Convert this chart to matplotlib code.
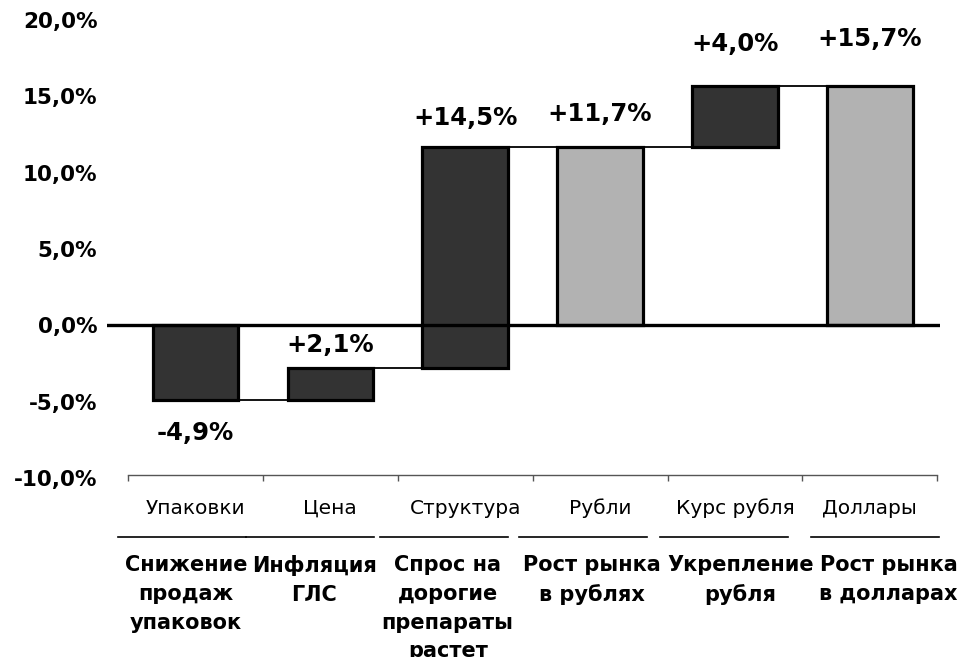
import matplotlib
matplotlib.use("Agg")
import matplotlib.pyplot as plt
from matplotlib.ticker import FixedLocator, FuncFormatter
import matplotlib.transforms as mtransforms

# ---- data ----
categories = ["Упаковки", "Цена", "Структура", "Рубли", "Курс рубля", "Доллары"]
descriptions = ["Снижение\nпродаж\nупаковок", "Инфляция\nГЛС", "Спрос на\nдорогие\nпрепараты\nрастет",
                "Рост рынка\nв рублях", "Укрепление\nрубля", "Рост рынка\nв долларах"]
changes = [-4.9, 2.1, 14.5, None, 4.0, None]   # None -> total bar
totals = [None, None, None, 11.7, None, 15.7]
value_labels = ["-4,9%", "+2,1%", "+14,5%", "+11,7%", "+4,0%", "+15,7%"]
y_ticks = [-10, -5, 0, 5, 10, 15, 20]

# ---- layout / style ----
DARK = "#333333"
LIGHT = "#B2B2B2"
bar_w = 0.635
label_offsets_pt = [-15, 8, 12, 15, 21, 25]        # vertical offset of value labels
desc_dx = [-0.07, -0.12, -0.13, -0.06, 0.04, 0.14]  # x offset of description labels
line_dx = [-0.10, -0.15, -0.16, -0.13, -0.08, 0.04] # x offset of underline centers
line_w = 0.95

fig = plt.figure(figsize=(9.6, 6.57), dpi=100)
ax = fig.add_axes([107/960, 1 - 478/657, (940-107)/960, (478-15.4)/657])
ax.set_xlim(-0.656, 5.52)
ax.set_ylim(-10, 20.3)

# compute waterfall geometry
bottoms, heights, colors, ends = [], [], [], []
level = 0.0
for i in range(len(categories)):
    if totals[i] is not None:
        bottoms.append(0.0)
        heights.append(totals[i])
        colors.append(LIGHT)
        level = totals[i]
    else:
        bottoms.append(level)
        heights.append(changes[i])
        colors.append(DARK)
        level = level + changes[i]
    ends.append(level)

x = list(range(len(categories)))
ax.bar(x, heights, bottom=bottoms, width=bar_w, color=colors,
       edgecolor="black", linewidth=2.3, zorder=3)

# connectors
for i in range(len(categories) - 1):
    ax.plot([x[i] + bar_w/2, x[i+1] - bar_w/2], [ends[i], ends[i]],
            color="black", lw=1.3, zorder=2)

# zero line
ax.axhline(0, color="black", lw=2.4, zorder=4)

# value labels
for i in range(len(categories)):
    top = max(bottoms[i], bottoms[i] + heights[i])
    low = min(bottoms[i], bottoms[i] + heights[i])
    if value_labels[i].startswith("-"):
        ax.annotate(value_labels[i], (x[i], low), xytext=(0, label_offsets_pt[i]),
                    textcoords="offset points", ha="center", va="top",
                    fontsize=17.5, fontweight="bold")
    else:
        ax.annotate(value_labels[i], (x[i], top), xytext=(0, label_offsets_pt[i]),
                    textcoords="offset points", ha="center", va="bottom",
                    fontsize=17.5, fontweight="bold")

# y axis
ax.yaxis.set_major_locator(FixedLocator(y_ticks))
ax.yaxis.set_major_formatter(FuncFormatter(lambda v, p: f"{v:.1f}".replace(".", ",") + "%"))
ax.tick_params(axis="y", length=0, pad=7, labelsize=15.5)
for lab in ax.get_yticklabels():
    lab.set_fontweight("bold")

# x axis (category axis)
for s in ["left", "right", "top"]:
    ax.spines[s].set_visible(False)
ax.spines["bottom"].set_position(("data", -9.8))
ax.spines["bottom"].set_bounds(-0.5, 5.5)
ax.spines["bottom"].set_color("#555555")
ax.spines["bottom"].set_linewidth(1.0)
ax.set_xticks(x)
ax.set_xticklabels(categories, fontsize=14.5)
ax.set_xticks([i - 0.5 for i in range(len(categories) + 1)], minor=True)
ax.tick_params(axis="x", which="major", length=0, pad=17)
ax.tick_params(axis="x", which="minor", length=4, direction="out", color="#555555", width=1.0)

# underlines and descriptions below
trans = mtransforms.blended_transform_factory(ax.transData, fig.transFigure)
y_line = 1 - 537/657
y_desc = 1 - 555/657
for i in range(len(categories)):
    c = x[i] + line_dx[i]
    fig.add_artist(plt.Line2D([c - line_w/2, c + line_w/2], [y_line, y_line],
                              transform=trans, color="black", lw=1.2))
    fig.text(x[i] + desc_dx[i], y_desc, descriptions[i], transform=trans,
             ha="center", va="top", fontsize=15, fontweight="bold", linespacing=1.55)

fig.savefig("out.png", dpi=100)
